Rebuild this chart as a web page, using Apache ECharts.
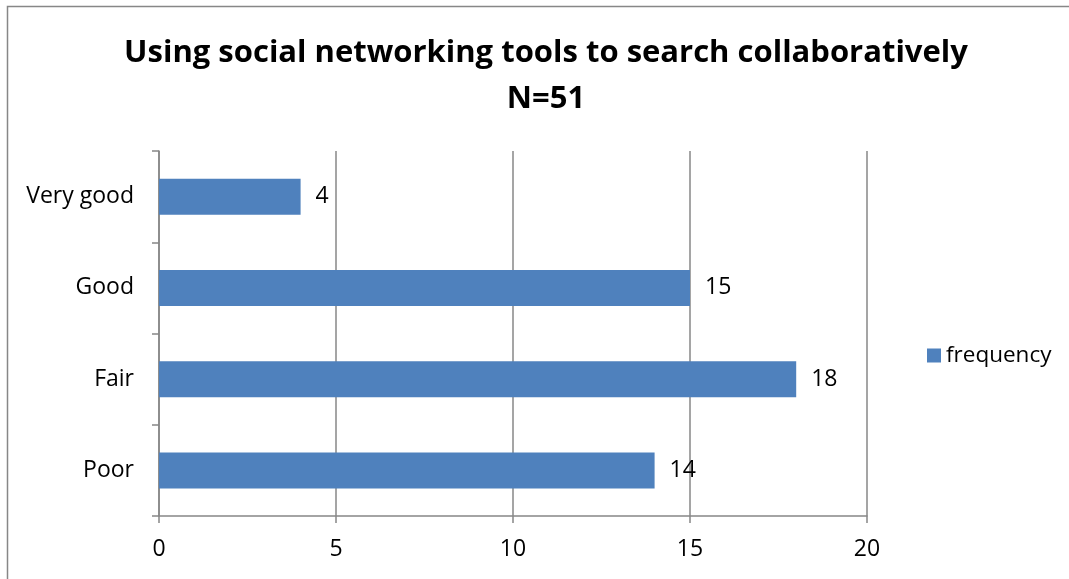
<!DOCTYPE html>
<html>
<head>
<meta charset="utf-8">
<script src="https://cdn.jsdelivr.net/npm/echarts@6/dist/echarts.min.js"></script>
<style>
  html, body { margin: 0; padding: 0; background: #fff; }
  #chart { width: 1069px; height: 579px; }
</style>
</head>
<body>
<div id="chart"></div>
<script>
// Survey ratings, listed bottom to top on the category axis
const categories = ['Poor', 'Fair', 'Good', 'Very good'];
const frequency = [14, 18, 15, 4];
const xTicks = { min: 0, max: 20, interval: 5 };

const FONT = '"Open Sans", Lato, sans-serif';
const GRAY = '#878787';
const BLUE = '#4F81BD';

const chart = echarts.init(document.getElementById('chart'), null, { renderer: 'canvas' });
chart.setOption({
  animation: false,
  backgroundColor: '#fff',
  title: {
    text: 'Using social networking tools to search collaboratively\nN=51',
    left: 541,
    textAlign: 'center',
    top: 25,
    textStyle: { fontFamily: FONT, fontWeight: 'bold', fontSize: 31, color: '#000', lineHeight: 46 }
  },
  graphic: [{
    type: 'rect',
    shape: { x: 7.5, y: 6.5, width: 1100, height: 600 },
    style: { fill: 'none', stroke: GRAY, lineWidth: 1.5 },
    silent: true
  }],
  legend: {
    data: ['frequency'],
    left: 922,
    top: 339,
    icon: 'rect',
    itemWidth: 14,
    itemHeight: 14,
    itemGap: 8,
    textStyle: { fontFamily: FONT, fontSize: 22.5, color: '#000' }
  },
  grid: { left: 159, right: 202, top: 151, bottom: 63 },
  xAxis: {
    type: 'value',
    min: xTicks.min,
    max: xTicks.max,
    interval: xTicks.interval,
    axisLine: { show: true, lineStyle: { color: GRAY, width: 1.5 } },
    axisTick: { show: true, length: 7, lineStyle: { color: GRAY, width: 1.5 } },
    splitLine: { show: true, lineStyle: { color: GRAY, width: 1.5 } },
    axisLabel: { fontFamily: FONT, fontSize: 23, color: '#000', margin: 22 }
  },
  yAxis: {
    type: 'category',
    data: categories,
    axisLine: { show: true, lineStyle: { color: GRAY, width: 1.5 } },
    axisTick: { show: true, length: 7, lineStyle: { color: GRAY, width: 1.5 } },
    axisLabel: { fontFamily: FONT, fontSize: 23, color: '#000', margin: 25 }
  },
  series: [{
    name: 'frequency',
    type: 'bar',
    data: frequency,
    barWidth: 36,
    itemStyle: { color: BLUE },
    label: {
      show: true,
      position: 'right',
      distance: 15,
      fontFamily: FONT,
      fontSize: 23,
      color: '#000'
    }
  }]
});
</script>
</body>
</html>
